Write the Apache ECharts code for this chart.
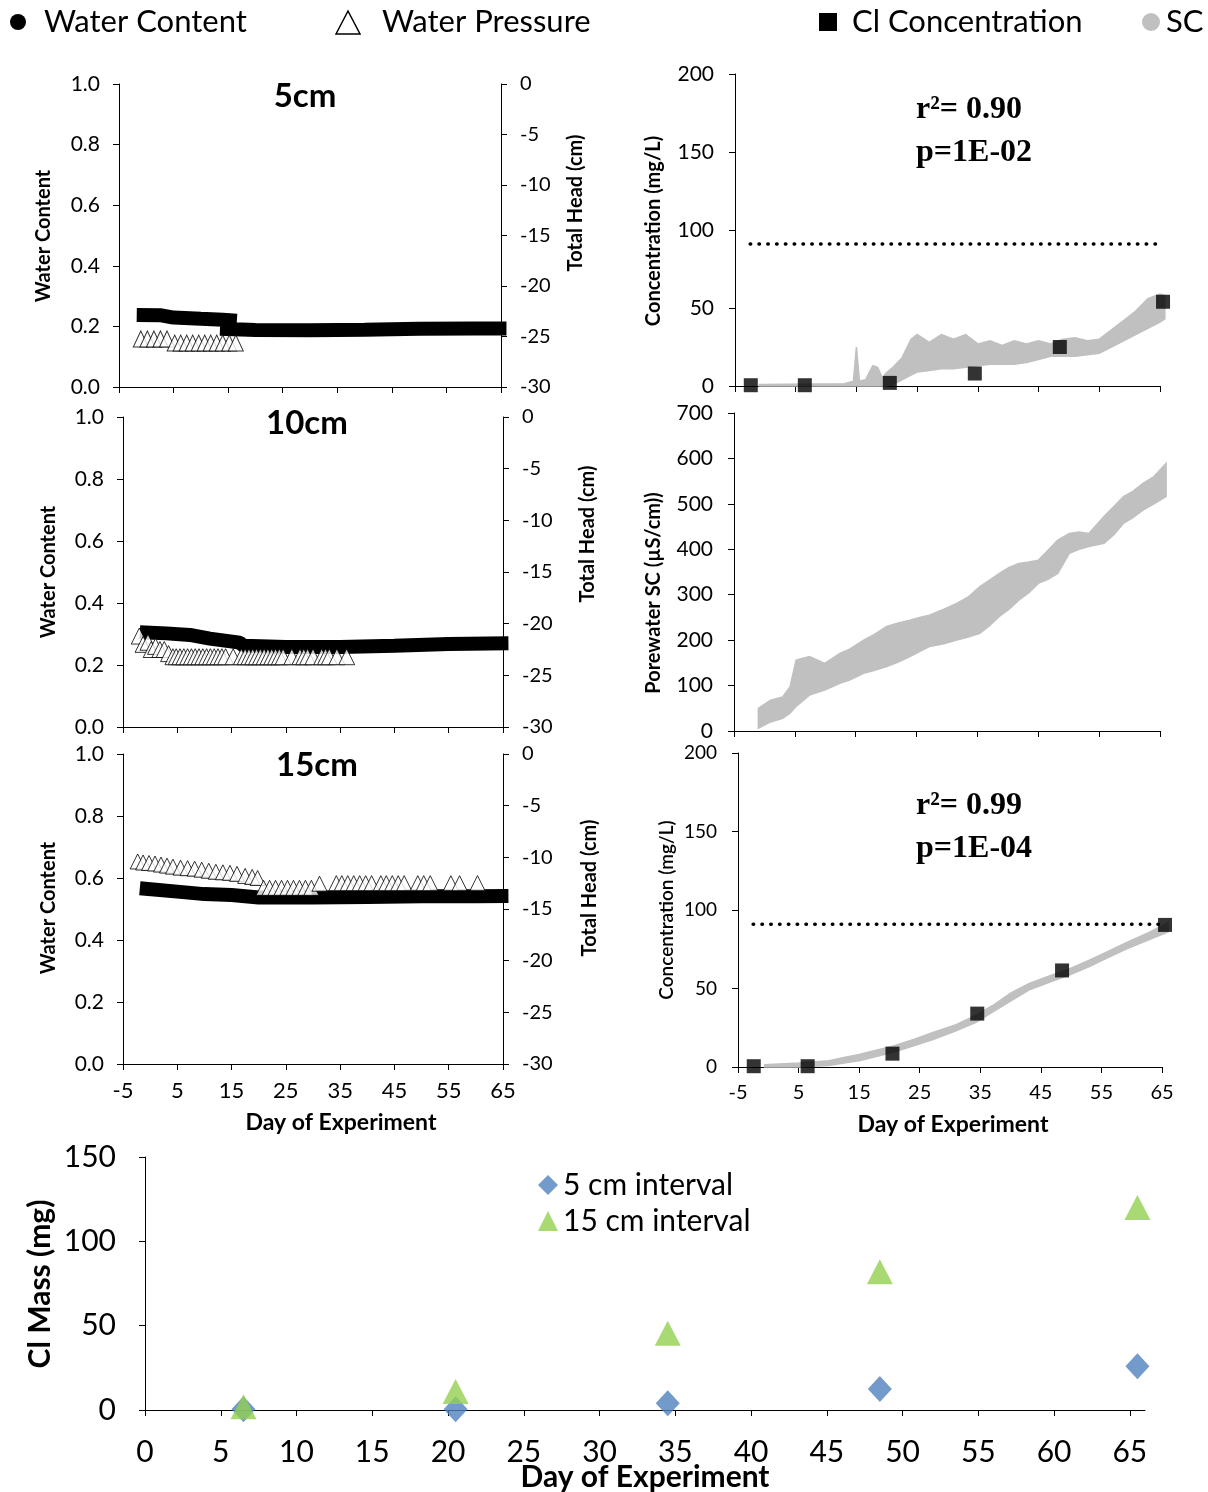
<!DOCTYPE html>
<html><head><meta charset="utf-8">
<script src="https://cdn.jsdelivr.net/npm/echarts@6/dist/echarts.min.js"></script>
<style>html,body{margin:0;padding:0;background:#fff}#c{width:1208px;height:1492px}</style>
</head><body><div id="c"></div>
<script>
// ---------------- DATA ----------------
const dayTicks = [-5, 5, 15, 25, 35, 45, 55, 65];
const massTicks = [0, 5, 10, 15, 20, 25, 30, 35, 40, 45, 50, 55, 60, 65];

// 5 cm : water content (left axis) and total head (right axis)
const wc5Days = [-1.75, 2.5, 5, 10, 14, 16.6, 16.6, 13.5, 20, 30, 40, 50, 60, 66];
const wc5 = [0.238, 0.237, 0.229, 0.225, 0.222, 0.219, null, 0.192, 0.188, 0.187, 0.189, 0.192, 0.193, 0.193];
const wp5Days = [-1.0, 0.2, 1.4, 2.6, 3.8, 5.2, 6.3, 7.4, 8.5, 9.6, 10.7, 11.8, 12.9, 14.0, 15.2, 16.4];
const wp5Head = [-25.25, -25.25, -25.25, -25.25, -25.25, -25.65, -25.65, -25.65, -25.65, -25.65, -25.65, -25.65, -25.65, -25.65, -25.65, -25.65];

// 10 cm
const wc10Days = [-1.9, 3, 7.3, 11, 16.5, 17.2, 25, 35, 45, 55, 66];
const wc10 = [0.306, 0.302, 0.297, 0.285, 0.272, 0.262, 0.258, 0.258, 0.262, 0.268, 0.270];
const wp10Days = [-2.0, -1.3, -0.4, 0.2, 1.0, 1.8, 2.6, 3.4, 4.2, 4.8, 5.5, 6.2, 6.9, 7.6, 8.3, 9.0, 9.7, 10.4, 11.1, 11.8, 12.5, 13.2, 13.9, 15.3, 16.8, 17.5, 18.2, 18.9, 19.6, 20.3, 21.0, 21.7, 22.4, 23.1, 23.8, 24.5, 26.1, 27.6, 28.3, 29.0, 30.0, 31.6, 32.3, 33.0, 34.4, 36.2];
const wp10Head = [-21.2, -22.0, -21.8, -22.5, -22.2, -22.5, -22.5, -22.9, -23.2, -23.2, -23.2, -23.2, -23.2, -23.2, -23.2, -23.2, -23.2, -23.2, -23.2, -23.2, -23.2, -23.2, -23.2, -23.2, -23.2, -23.2, -23.2, -23.2, -23.2, -23.2, -23.2, -23.2, -23.2, -23.2, -23.2, -23.2, -23.2, -23.2, -23.2, -23.2, -23.2, -23.2, -23.2, -23.2, -23.2, -23.2];

// 15 cm
const wc15Days = [-1.9, 5, 10, 15, 20, 30, 40, 50, 60, 66];
const wc15 = [0.567, 0.556, 0.548, 0.545, 0.537, 0.537, 0.539, 0.541, 0.541, 0.542];
const wp15Days = [-2.3, -1.3, -0.2, 0.9, 2.0, 3.1, 4.2, 5.6, 6.9, 8.2, 9.5, 10.8, 12.1, 13.4, 14.7, 16.0, 17.5, 18.8, 19.8, 20.9, 22.0, 23.1, 24.2, 25.3, 26.4, 27.5, 28.6, 29.7, 31.2, 34.3, 35.3, 36.4, 37.5, 38.6, 39.7, 40.8, 42.5, 43.5, 44.6, 45.7, 46.8, 49.3, 50.4, 51.6, 55.4, 57.0, 60.3];
const wp15Head = [-10.4, -10.5, -10.55, -10.6, -10.7, -10.8, -10.9, -11.0, -11.05, -11.1, -11.2, -11.3, -11.4, -11.45, -11.5, -11.6, -11.8, -11.9, -12.0, -12.95, -12.95, -12.95, -12.95, -12.95, -12.95, -12.95, -12.95, -12.95, -12.55, -12.5, -12.5, -12.5, -12.5, -12.5, -12.5, -12.5, -12.5, -12.5, -12.5, -12.5, -12.5, -12.5, -12.5, -12.5, -12.5, -12.5, -12.5];

// Cl concentration samples
const clDays = [-2.4, 6.5, 20.5, 34.5, 48.5, 65.5];
const cl5 = [0.5, 0.5, 2, 8, 25, 54];
const cl15 = [0.5, 0.5, 8.5, 34, 61.5, 90.5];
const limitDays = [-2.5, 65];
const limitConc = [91, 91];

// SC-derived concentration band, 5 cm (lower / upper edge of the gray cloud)
const scc5Days = [-1, 13, 14.5, 15, 15.5, 16.5, 17.7, 18.5, 19.3, 19.8, 21, 22.5, 24, 25, 27, 29, 31, 33, 35, 37, 39, 41, 43, 45, 47, 49, 51, 53, 55, 57, 59, 61, 63, 65, 65.8];
const scc5Low = [0, 0, 0, 0, 0, 0, 0, 0, 0, 0, 1, 4, 7, 9, 10, 11, 11, 12, 13, 14, 14, 14, 15, 17, 19, 19, 19, 20, 21, 25, 29, 33, 37, 41, 43];
const scc5High = [1, 1.5, 3, 25, 3, 4, 13, 12, 5, 8, 12, 18, 30, 33, 28, 33, 30, 33, 27, 29, 26, 29, 27, 29, 27, 30, 31, 29, 30, 36, 42, 48, 56, 59, 58];

// Porewater SC band
const scDays = [-1, 1, 3, 4.2, 5.2, 7.4, 9.9, 12.4, 14, 16.3, 18, 20.1, 22, 23.9, 25.5, 27.1, 29.5, 31.6, 33.5, 35.4, 37, 38.6, 40.2, 41.8, 43.5, 45, 46.6, 48.2, 50.1, 51.7, 53.3, 55.8, 57.5, 59, 60.6, 62.2, 64, 66];
const scLow = [6, 20, 28, 39, 54, 79, 90, 105, 112, 127, 133, 142, 152, 164, 175, 186, 192, 200, 207, 215, 232, 252, 268, 288, 305, 325, 334, 347, 391, 400, 406, 413, 433, 457, 470, 486, 500, 516];
const scHigh = [50, 68, 75, 97, 156, 164, 149, 171, 180, 200, 212, 230, 238, 244, 250, 255, 268, 281, 295, 318, 332, 347, 360, 369, 372, 376, 398, 420, 435, 438, 435, 472, 495, 516, 528, 545, 560, 589];

// SC-derived concentration band, 15 cm
const scc15Days = [-0.6, 5, 10, 12.5, 15, 20.8, 24, 27.2, 31, 34.3, 37, 40, 43, 46.4, 49.7, 53, 56, 59, 62.5, 66];
const scc15Low = [0, 0, 1, 2.5, 4, 9.5, 13.5, 17.5, 23, 28.5, 35, 42, 49, 54, 58.5, 64, 69.5, 75, 80.5, 86];
const scc15High = [1.5, 2.5, 4, 6, 8, 13.5, 17.5, 22, 27, 33, 39, 47, 53, 58, 62.5, 68, 73.5, 79, 85, 92];

// Cl mass
const massDays = [6.5, 20.5, 34.5, 48.5, 65.5];
const mass5 = [0.5, 0.5, 4, 12.5, 26];
const mass15 = [2, 11, 45.5, 82, 120];

// ---------------- HELPERS ----------------
const FONT = 'Lato, "Open Sans", sans-serif';
const pairs = (xs, ys) => xs.map((x, i) => [x, ys[i]]);

function xAx(grid, min, max, ticks, showLabel, fs, margin) {
  return {type: 'value', gridIndex: grid, min, max,
    axisLine: {show: true, onZero: false, lineStyle: {color: '#000', width: 1}},
    axisTick: {show: true, length: 6, customValues: ticks, lineStyle: {color: '#000'}},
    axisLabel: {show: showLabel, customValues: ticks, fontSize: fs, color: '#000', margin, fontFamily: FONT},
    splitLine: {show: false}};
}
function yAx(grid, min, max, interval, pos, fs, margin, fmt) {
  return {type: 'value', gridIndex: grid, min, max, interval, position: pos,
    axisLine: {show: true, onZero: false, lineStyle: {color: '#000', width: 1}},
    axisTick: {show: true, length: 6, lineStyle: {color: '#000'}},
    axisLabel: {fontSize: fs, color: '#000', margin, fontFamily: FONT, formatter: fmt},
    splitLine: {show: false}};
}
const f1 = v => v.toFixed(1);
const fi = v => String(v);

function wcLine(name, xi, yi, xs, ys) {
  return {name, type: 'line', xAxisIndex: xi, yAxisIndex: yi, data: pairs(xs, ys), symbol: 'none',
    clip: false, connectNulls: false, lineStyle: {color: '#000', width: 14, cap: 'butt'}, z: 3};
}
function wpTri(name, xi, yi, xs, ys, size) {
  return {name, type: 'scatter', xAxisIndex: xi, yAxisIndex: yi, data: pairs(xs, ys), symbol: 'triangle',
    symbolSize: size, clip: false, itemStyle: {color: '#fff', borderColor: '#000', borderWidth: 1}, z: 4};
}
// gray cloud: polygon between lower and upper edges, placed with the axis scales (api.coord)
function band(name, xi, yi, xs, lo, hi) {
  return {name, type: 'custom', xAxisIndex: xi, yAxisIndex: yi, silent: true, z: 2,
    data: xs.map((x, i) => [x, lo[i], hi[i]]),
    encode: {x: 0, y: [1, 2]},
    renderItem: (params, api) => {
      if (params.dataIndex !== 0) return null;
      const top = xs.map((x, i) => api.coord([x, hi[i]]));
      const bot = xs.map((x, i) => api.coord([x, lo[i]])).reverse();
      return {type: 'polygon', shape: {points: top.concat(bot)},
        style: {fill: '#c0c0c0', stroke: '#c0c0c0', lineWidth: 1.5}};
    }};
}
function squares(name, xi, yi, xs, ys) {
  return {name, type: 'scatter', xAxisIndex: xi, yAxisIndex: yi, data: pairs(xs, ys), symbol: 'rect',
    symbolSize: 14, clip: false, itemStyle: {color: '#000'}, z: 5};
}
function dotted(name, xi, yi) {
  return {name, type: 'line', xAxisIndex: xi, yAxisIndex: yi, data: pairs(limitDays, limitConc), symbol: 'none',
    lineStyle: {color: '#000', width: 3.5, type: [0.5, 8.3], cap: 'round'}, z: 4};
}
function T(text, x, y, font, rot, align) {
  return {type: 'text', x, y, rotation: rot || 0, z: 100,
    style: {text, font, fill: '#000', align: align || 'center', verticalAlign: 'middle'}};
}
const B20 = 'bold 20px ' + FONT;
const TIMES = 'bold 32px "Liberation Serif", "Times New Roman", serif';
const LEG = '31px ' + FONT;
const R90 = Math.PI / 2;

const chart = echarts.init(document.getElementById('c'), null, {renderer: 'canvas'});
chart.setOption({
  animation: false,
  backgroundColor: '#fff',
  textStyle: {fontFamily: FONT},
  grid: [
    {left: 119, top: 84, width: 382, height: 303},
    {left: 123, top: 417, width: 380, height: 310},
    {left: 123, top: 754, width: 380, height: 310},
    {left: 735, top: 74, width: 425, height: 312},
    {left: 734, top: 413, width: 426, height: 318},
    {left: 738, top: 753, width: 424, height: 314},
    {left: 145, top: 1157, width: 1000, height: 253}
  ],
  xAxis: [
    xAx(0, -5, 65, dayTicks, false, 22, 16),
    xAx(1, -5, 65, dayTicks, false, 22, 16),
    xAx(2, -5, 65, dayTicks, true, 22, 16),
    xAx(3, -5, 65, dayTicks, false, 20, 16),
    xAx(4, -5, 65, dayTicks, false, 20, 16),
    xAx(5, -5, 65, dayTicks, true, 20, 16),
    xAx(6, 0, 66, massTicks, true, 30, 27)
  ],
  yAxis: [
    yAx(0, 0, 1, 0.2, 'left', 21, 19, f1),
    yAx(0, -30, 0, 5, 'right', 20, 19, fi),
    yAx(1, 0, 1, 0.2, 'left', 21, 19, f1),
    yAx(1, -30, 0, 5, 'right', 20, 19, fi),
    yAx(2, 0, 1, 0.2, 'left', 21, 19, f1),
    yAx(2, -30, 0, 5, 'right', 20, 19, fi),
    yAx(3, 0, 200, 50, 'left', 21, 21, fi),
    yAx(4, 0, 700, 100, 'left', 21, 21, fi),
    yAx(5, 0, 200, 50, 'left', 19, 21, fi),
    yAx(6, 0, 150, 50, 'left', 30, 29, fi)
  ],
  legend: {
    data: [{name: '5 cm interval', icon: 'diamond'}, {name: '15 cm interval', icon: 'triangle'}],
    orient: 'vertical', left: 533, top: 1165, itemWidth: 20, itemHeight: 20, itemGap: 6,
    textStyle: {fontSize: 30, fontFamily: FONT, color: '#000'}, selectedMode: false
  },
  series: [
    wcLine('WC 5cm', 0, 0, wc5Days, wc5),
    wpTri('WP 5cm', 0, 1, wp5Days, wp5Head, [15, 16]),
    wcLine('WC 10cm', 1, 2, wc10Days, wc10),
    wpTri('WP 10cm', 1, 3, wp10Days, wp10Head, [16, 16]),
    wcLine('WC 15cm', 2, 4, wc15Days, wc15),
    wpTri('WP 15cm', 2, 5, wp15Days, wp15Head, [15, 15]),
    band('SC conc 5cm', 3, 6, scc5Days, scc5Low, scc5High),
    dotted('Limit 5cm', 3, 6),
    squares('Cl 5cm', 3, 6, clDays, cl5),
    band('Porewater SC', 4, 7, scDays, scLow, scHigh),
    band('SC conc 15cm', 5, 8, scc15Days, scc15Low, scc15High),
    dotted('Limit 15cm', 5, 8),
    squares('Cl 15cm', 5, 8, clDays, cl15),
    {name: '5 cm interval', type: 'scatter', xAxisIndex: 6, yAxisIndex: 9, data: pairs(massDays, mass5),
      symbol: 'diamond', symbolSize: [24, 26], clip: false, itemStyle: {color: '#4f81bd'}, z: 5},
    {name: '15 cm interval', type: 'scatter', xAxisIndex: 6, yAxisIndex: 9, data: pairs(massDays, mass15),
      symbol: 'triangle', symbolSize: [26, 25], clip: false, itemStyle: {color: '#92d050'}, z: 6}
  ],
  graphic: [
    // top legend
    {type: 'circle', shape: {cx: 18, cy: 22, r: 8}, style: {fill: '#000'}},
    T('Water Content', 44, 22, LEG, 0, 'left'),
    {type: 'polygon', shape: {points: [[336, 34], [348, 11], [360, 34]]}, style: {fill: '#fff', stroke: '#000', lineWidth: 1.5}},
    T('Water Pressure', 382, 22, LEG, 0, 'left'),
    {type: 'rect', shape: {x: 819, y: 13, width: 18, height: 18}, style: {fill: '#000'}},
    T('Cl Concentration', 852, 22, LEG, 0, 'left'),
    {type: 'circle', shape: {cx: 1151, cy: 22, r: 9}, style: {fill: '#c0c0c0'}},
    T('SC', 1166, 22, LEG, 0, 'left'),
    // panel titles
    T('5cm', 305, 96, 'bold 33px ' + FONT),
    T('10cm', 307, 423, 'bold 33px ' + FONT),
    T('15cm', 317, 765, 'bold 33px ' + FONT),
    // axis titles
    T('Water Content', 44, 236, B20, R90),
    T('Water Content', 49, 572, B20, R90),
    T('Water Content', 49, 908, B20, R90),
    T('Total Head (cm)', 576, 203, B20, R90),
    T('Total Head (cm)', 588, 534, B20, R90),
    T('Total Head (cm)', 590, 888, B20, R90),
    T('Concentration (mg/L)', 654, 231, 'bold 20px ' + FONT, R90),
    T('Porewater SC (µS/cm))', 654, 593, 'bold 20px ' + FONT, R90),
    T('Concentration (mg/L)', 667, 910, '600 19px ' + FONT, R90),
    T('Day of Experiment', 341, 1123, 'bold 23px ' + FONT),
    T('Day of Experiment', 953, 1125, 'bold 23px ' + FONT),
    T('Cl Mass (mg)', 40, 1284, 'bold 30px ' + FONT, R90),
    T('Day of Experiment', 645, 1477, 'bold 30px ' + FONT),
    // statistics
    T('r²= 0.90', 916, 110, TIMES, 0, 'left'),
    T('p=1E-02', 916, 153, TIMES, 0, 'left'),
    T('r²= 0.99', 916, 806, TIMES, 0, 'left'),
    T('p=1E-04', 916, 849, TIMES, 0, 'left')
  ]
});
</script>
</body></html>
